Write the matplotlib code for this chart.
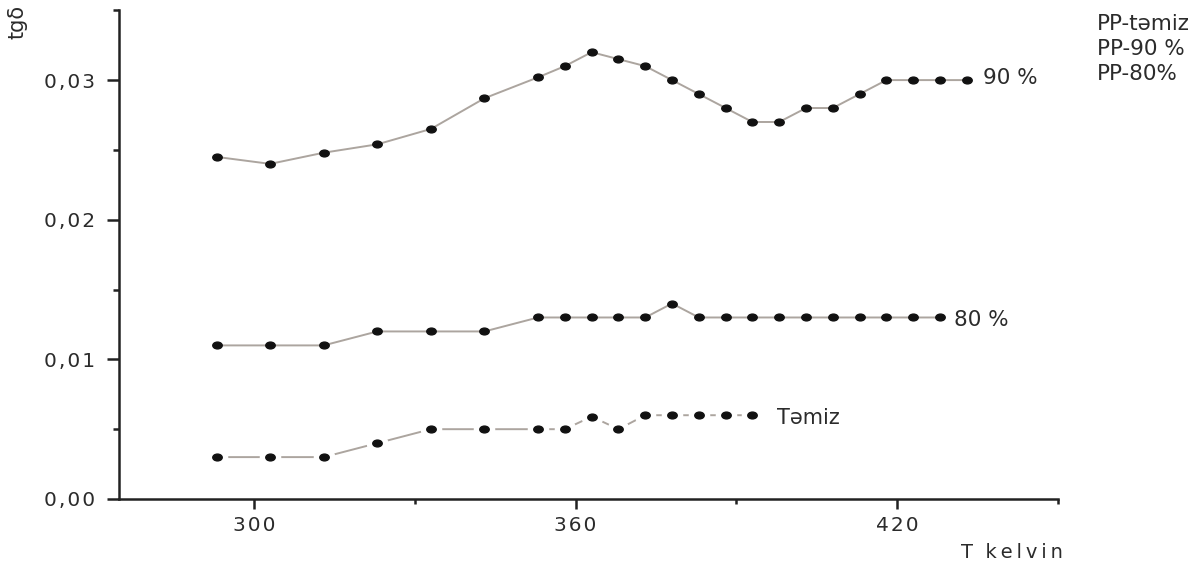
import matplotlib
matplotlib.use('Agg')
import matplotlib.pyplot as plt
import numpy as np
from matplotlib.path import Path

# ---- data ----
T90 = [293, 303, 313, 323, 333, 343, 353, 358, 363, 368, 373, 378, 383, 388, 393,
       398, 403, 408, 413, 418, 423, 428, 433]
tg90 = [0.0245, 0.0240, 0.0248, 0.0254, 0.0265, 0.0287, 0.0302, 0.0310, 0.0320,
        0.0315, 0.0310, 0.0300, 0.0290, 0.0280, 0.0270, 0.0270, 0.0280, 0.0280,
        0.0290, 0.0300, 0.0300, 0.0300, 0.0300]
T80 = [293, 303, 313, 323, 333, 343, 353, 358, 363, 368, 373, 378, 383, 388, 393,
       398, 403, 408, 413, 418, 423, 428]
tg80 = [0.011, 0.011, 0.011, 0.012, 0.012, 0.012, 0.013, 0.013, 0.013, 0.013, 0.013,
        0.014, 0.013, 0.013, 0.013, 0.013, 0.013, 0.013, 0.013, 0.013, 0.013, 0.013]
Ttem = [293, 303, 313, 323, 333, 343, 353, 358, 363, 368, 373, 378, 383, 388, 393]
tgtem = [0.003, 0.003, 0.003, 0.004, 0.005, 0.005, 0.005, 0.005, 0.0059, 0.005,
         0.006, 0.006, 0.006, 0.006, 0.006]

xticks = [300, 360, 420]
xminor = [330, 390, 450]
yticks = [0.00, 0.01, 0.02, 0.03]
yminor = [0.005, 0.015, 0.025, 0.035]
ytick_labels = ["0,00", "0,01", "0,02", "0,03"]
legend_lines = ["PP-təmiz", "PP-90 %", "PP-80%"]
series_labels = ["90 %", "80 %", "Təmiz"]

HS = "\u200a"  # hair space
TS = "\u2009"  # thin space


def spaced(s, sep=HS):
    return sep.join(list(s))


plt.rcParams['font.family'] = ['DejaVu Sans']

W, H = 1204, 573
fig = plt.figure(figsize=(W / 100, H / 100), dpi=100)
ax = fig.add_axes([119 / W, 1 - 499 / H, (1058 - 119) / W, (499 - 10) / H])

line_col = '#aca59f'
dot_col = '#111111'
txt_col = '#2b2b2b'
circ = Path.unit_circle()
ell = Path(circ.vertices * np.array([1.0, 0.72]), circ.codes)

for xs, ys in [(T90, tg90), (T80, tg80)]:
    ax.plot(xs, ys, color=line_col, lw=1.4, zorder=1)
    ax.plot(xs, ys, ls='none', marker=ell, ms=6.8, color=dot_col, zorder=3)

ax.plot(Ttem, tgtem, color=line_col, lw=1.4, zorder=1)
ax.plot(Ttem, tgtem, ls='none', marker='o', ms=14.5, color='white', zorder=2)
ax.plot(Ttem, tgtem, ls='none', marker=ell, ms=6.8, color=dot_col, zorder=3)

ax.set_xlim(274.8, 450.02)
ax.set_ylim(0, 0.03502)

spine_col = '#222222'
for s in ['top', 'right']:
    ax.spines[s].set_visible(False)
for s in ['left', 'bottom']:
    ax.spines[s].set_color(spine_col)
    ax.spines[s].set_linewidth(1.8)

ax.set_xticks(xticks)
ax.set_xticklabels([spaced(str(t)) for t in xticks])
ax.set_xticks(xminor, minor=True)
ax.set_yticks(yticks)
ax.set_yticklabels([spaced(t) for t in ytick_labels])
ax.set_yticks(yminor, minor=True)

ax.tick_params(axis='x', which='major', direction='out', length=7, width=1.8,
               color=spine_col, pad=5, labelsize=14.5, labelcolor=txt_col)
ax.tick_params(axis='x', which='minor', direction='out', length=3.5, width=1.8,
               color=spine_col)
ax.tick_params(axis='y', which='major', direction='out', length=8.5, width=1.8,
               color=spine_col, pad=9, labelsize=14.5, labelcolor=txt_col)
ax.tick_params(axis='y', which='minor', direction='out', length=4, width=1.8,
               color=spine_col)


def ftext(px, py, s, **kw):
    fig.text(px / W, 1 - py / H, s, **kw)


# y label
ftext(18, 22, "tgδ", rotation=90, ha='center', va='center', fontsize=15,
      color=txt_col)
# x label
ftext(1063, 553, "T  " + spaced("kelvin", TS), ha='right', va='center',
      fontsize=14, color=txt_col)

# legend-like text at top right
for i, s in enumerate(legend_lines):
    ftext(1097, 24 + 25 * i, s, ha='left', va='center', fontsize=15.5,
          color=txt_col)

# series labels
ftext(983, 78, series_labels[0], ha='left', va='center', fontsize=15.5,
      color=txt_col)
ftext(954, 320, series_labels[1], ha='left', va='center', fontsize=15.5,
      color=txt_col)
ftext(777, 418, series_labels[2], ha='left', va='center', fontsize=15,
      color=txt_col)

fig.savefig('out.png', dpi=100)
